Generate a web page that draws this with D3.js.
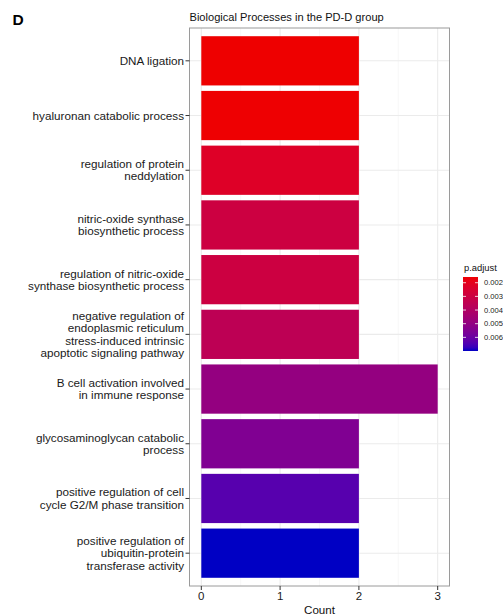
<!DOCTYPE html>
<html>
<head>
<meta charset="utf-8">
<script src="https://cdn.jsdelivr.net/npm/d3@7/dist/d3.min.js"></script>
<style>
  html, body { margin: 0; padding: 0; background: #fff; }
  svg { display: block; font-family: "Liberation Sans", Arial, Helvetica, sans-serif; }
</style>
</head>
<body>
<svg id="chart" width="503" height="616"></svg>
<script>
// GO biological process terms (top to bottom), line breaks mark wrapped labels
const categories = [
  "DNA ligation",
  "hyaluronan catabolic process",
  "regulation of protein\nneddylation",
  "nitric-oxide synthase\nbiosynthetic process",
  "regulation of nitric-oxide\nsynthase biosynthetic process",
  "negative regulation of\nendoplasmic reticulum\nstress-induced intrinsic\napoptotic signaling pathway",
  "B cell activation involved\nin immune response",
  "glycosaminoglycan catabolic\nprocess",
  "positive regulation of cell\ncycle G2/M phase transition",
  "positive regulation of\nubiquitin-protein\ntransferase activity"
];
const counts = [2, 2, 2, 2, 2, 2, 3, 2, 2, 2];
const pAdjust = [0.00158, 0.00160, 0.00223, 0.00297, 0.00297, 0.00356, 0.00494, 0.00548, 0.00633, 0.00700];
const xTicks = [0, 1, 2, 3];
const xMinor = [0.5, 1.5, 2.5];
const legendTicks = [0.002, 0.003, 0.004, 0.005, 0.006];

const svg = d3.select("#chart");
const panel = { left: 189.5, right: 449.5, top: 28, bottom: 586 };

const x = d3.scaleLinear().domain([-0.15, 3.15]).range([panel.left, panel.right]);
const y = d3.scaleBand().domain(categories).range([panel.top, panel.bottom])
  .paddingInner(0.1).paddingOuter(0.15);
const pExtent = d3.extent(pAdjust);
const color = d3.scaleLinear().domain(pExtent).range(["#ee0000", "#0000c4"])
  .interpolate(d3.interpolateLab);

// panel label and title
svg.append("text").attr("x", 12.5).attr("y", 25).attr("font-size", 15.5)
  .attr("font-weight", "bold").attr("fill", "#000").text("D");
svg.append("text").attr("x", panel.left).attr("y", 20.5).attr("font-size", 11.1)
  .attr("fill", "#111").text("Biological Processes in the PD-D group");

// grid
const grid = svg.append("g");
grid.selectAll("line.minor").data(xMinor).join("line")
  .attr("x1", d => x(d)).attr("x2", d => x(d))
  .attr("y1", panel.top).attr("y2", panel.bottom)
  .attr("stroke", "#f4f4f4").attr("stroke-width", 0.6);
grid.selectAll("line.majx").data(xTicks).join("line")
  .attr("x1", d => x(d)).attr("x2", d => x(d))
  .attr("y1", panel.top).attr("y2", panel.bottom)
  .attr("stroke", "#ebebeb").attr("stroke-width", 1.1);
grid.selectAll("line.majy").data(categories).join("line")
  .attr("x1", panel.left).attr("x2", panel.right)
  .attr("y1", d => y(d) + y.bandwidth() / 2).attr("y2", d => y(d) + y.bandwidth() / 2)
  .attr("stroke", "#ebebeb").attr("stroke-width", 1.1);

// bars
svg.append("g").selectAll("rect").data(categories).join("rect")
  .attr("x", x(0))
  .attr("y", d => y(d))
  .attr("width", (d, i) => x(counts[i]) - x(0))
  .attr("height", y.bandwidth())
  .attr("fill", (d, i) => color(pAdjust[i]));

// panel border
svg.append("rect").attr("x", panel.left).attr("y", panel.top)
  .attr("width", panel.right - panel.left).attr("height", panel.bottom - panel.top)
  .attr("fill", "none").attr("stroke", "#9a9a9a").attr("stroke-width", 1);

// y axis ticks and wrapped labels
const yAxis = svg.append("g");
categories.forEach(c => {
  const yc = y(c) + y.bandwidth() / 2;
  yAxis.append("line").attr("x1", panel.left - 4).attr("x2", panel.left)
    .attr("y1", yc).attr("y2", yc).attr("stroke", "#333").attr("stroke-width", 1);
  const lines = c.split("\n");
  const lh = 12.3;
  const t = yAxis.append("text").attr("text-anchor", "end").attr("font-size", 11.7)
    .attr("fill", "#1a1a1a");
  lines.forEach((ln, k) => {
    t.append("tspan").attr("x", 184)
      .attr("y", yc + (k - (lines.length - 1) / 2) * lh + 4.1).text(ln);
  });
});

// x axis
const xAxis = svg.append("g");
xTicks.forEach(v => {
  xAxis.append("line").attr("x1", x(v)).attr("x2", x(v))
    .attr("y1", panel.bottom).attr("y2", panel.bottom + 4)
    .attr("stroke", "#333").attr("stroke-width", 1);
  xAxis.append("text").attr("x", x(v)).attr("y", 600.2).attr("text-anchor", "middle")
    .attr("font-size", 11.5).attr("fill", "#1a1a1a").text(v);
});
svg.append("text").attr("x", (panel.left + panel.right) / 2).attr("y", 614.3)
  .attr("text-anchor", "middle").attr("font-size", 11.6).attr("fill", "#111").text("Count");

// colour bar legend
const lg = { x: 463, y: 277, w: 15, h: 74 };
const defs = svg.append("defs");
const grad = defs.append("linearGradient").attr("id", "pgrad")
  .attr("x1", 0).attr("y1", 0).attr("x2", 0).attr("y2", 1);
d3.range(0, 1.0001, 0.05).forEach(f => {
  grad.append("stop").attr("offset", f)
    .attr("stop-color", color(pExtent[0] + f * (pExtent[1] - pExtent[0])));
});
svg.append("text").attr("x", lg.x + 1).attr("y", 271).attr("font-size", 9.4)
  .attr("fill", "#111").text("p.adjust");
svg.append("rect").attr("x", lg.x).attr("y", lg.y).attr("width", lg.w).attr("height", lg.h)
  .attr("fill", "url(#pgrad)");
const ly = d3.scaleLinear().domain(pExtent).range([lg.y, lg.y + lg.h]);
legendTicks.forEach(v => {
  const yy = ly(v);
  svg.append("line").attr("x1", lg.x).attr("x2", lg.x + 3).attr("y1", yy).attr("y2", yy)
    .attr("stroke", "#fff").attr("stroke-width", 0.8);
  svg.append("line").attr("x1", lg.x + lg.w - 3).attr("x2", lg.x + lg.w).attr("y1", yy).attr("y2", yy)
    .attr("stroke", "#fff").attr("stroke-width", 0.8);
  svg.append("text").attr("x", 484).attr("y", yy + 2.7).attr("font-size", 7.6)
    .attr("fill", "#222").text(d3.format(".3f")(v));
});
</script>
</body>
</html>
